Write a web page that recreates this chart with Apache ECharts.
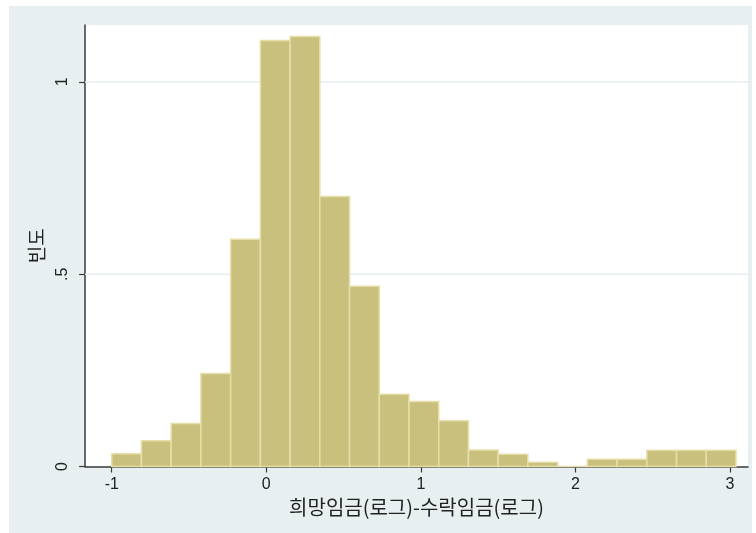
<!DOCTYPE html>
<html>
<head>
<meta charset="utf-8">
<script src="https://cdn.jsdelivr.net/npm/echarts@6/dist/echarts.min.js"></script>
<style>
  html, body { margin: 0; padding: 0; background: #ffffff; }
  #chart { width: 756px; height: 533px; }
</style>
</head>
<body>
<div id="chart"></div>
<script>
// Histogram of log(reservation wage) - log(accepted wage), density scale
const binStart = -1.0;
const binWidth = 0.1923;
const density = [0.033, 0.067, 0.112, 0.242, 0.591, 1.108, 1.118, 0.702, 0.469,
                 0.188, 0.169, 0.119, 0.043, 0.032, 0.011, 0, 0.019, 0.019,
                 0.042, 0.042, 0.042];

const xTicks = [-1, 0, 1, 2, 3];
const yTicks = [0, 0.5, 1];
const yTickLabels = ['0', '.5', '1'];
const yGrid = [0.5, 1];

const xTitle = '희망임금(로그)-수락임금(로그)';
const yTitle = '빈도';

const xMin = -1.173, xMax = 3.116;
const yMin = 0, yMax = 1.148;

const bins = density.map((d, i) => [binStart + i * binWidth, binStart + (i + 1) * binWidth, d]);

const numFont = 'Liberation Sans, Arial, sans-serif';
const krFont = 'Noto Sans CJK KR, sans-serif';

const chart = echarts.init(document.getElementById('chart'), null, { renderer: 'canvas' });

chart.setOption({
  backgroundColor: '#ffffff',
  animation: false,
  graphic: [{
    type: 'rect',
    z: -10,
    shape: { x: 9, y: 6, width: 743, height: 527 },
    style: { fill: '#e7eff1' }
  }],
  grid: {
    left: 85, top: 25, width: 663, height: 441.5,
    show: true, backgroundColor: '#ffffff', borderWidth: 0
  },
  xAxis: {
    type: 'value',
    min: xMin, max: xMax,
    name: xTitle,
    nameLocation: 'middle',
    nameGap: 29,
    nameTextStyle: { fontFamily: krFont, fontSize: 20, color: '#222222' },
    axisLine: { show: true, onZero: false, lineStyle: { color: '#3a3a3a', width: 1.5 } },
    axisTick: { show: true, length: 6, customValues: xTicks, lineStyle: { color: '#3a3a3a', width: 1.2 } },
    axisLabel: {
      customValues: xTicks, margin: 10,
      fontFamily: numFont, fontSize: 16, color: '#222222'
    },
    splitLine: { show: false }
  },
  yAxis: {
    type: 'value',
    min: yMin, max: yMax,
    name: yTitle,
    nameLocation: 'middle',
    nameRotate: 90,
    nameGap: 39,
    nameTextStyle: { fontFamily: krFont, fontSize: 19, color: '#222222' },
    axisLine: { show: true, onZero: false, lineStyle: { color: '#3a3a3a', width: 1.5 } },
    axisTick: { show: true, length: 6, customValues: yTicks, lineStyle: { color: '#3a3a3a', width: 1.2 } },
    axisLabel: {
      customValues: yTicks, rotate: 90, margin: 14,
      fontFamily: numFont, fontSize: 16, color: '#222222',
      formatter: v => yTickLabels[yTicks.indexOf(v)] ?? ''
    },
    splitLine: { show: false }
  },
  series: [{
    // horizontal grid lines, drawn beneath the bars
    type: 'custom',
    data: yGrid.map(v => [v]),
    encode: { y: 0 },
    silent: true,
    z: 1,
    renderItem: (params, api) => {
      const a = api.coord([xMin, api.value(0)]);
      const b = api.coord([xMax, api.value(0)]);
      return {
        type: 'line',
        shape: { x1: a[0], y1: a[1], x2: b[0], y2: b[1] },
        style: { stroke: '#e6edf0', lineWidth: 1.5 }
      };
    }
  }, {
    type: 'custom',
    data: bins,
    encode: { x: [0, 1], y: 2 },
    z: 2,
    renderItem: (params, api) => {
      const p0 = api.coord([api.value(0), 0]);
      const p1 = api.coord([api.value(1), api.value(2)]);
      return {
        type: 'rect',
        shape: { x: p0[0], y: p1[1], width: p1[0] - p0[0], height: p0[1] - p1[1] },
        style: { fill: '#cac07e', stroke: '#e6dfa9', lineWidth: 1.5 }
      };
    }
  }]
});
</script>
</body>
</html>
